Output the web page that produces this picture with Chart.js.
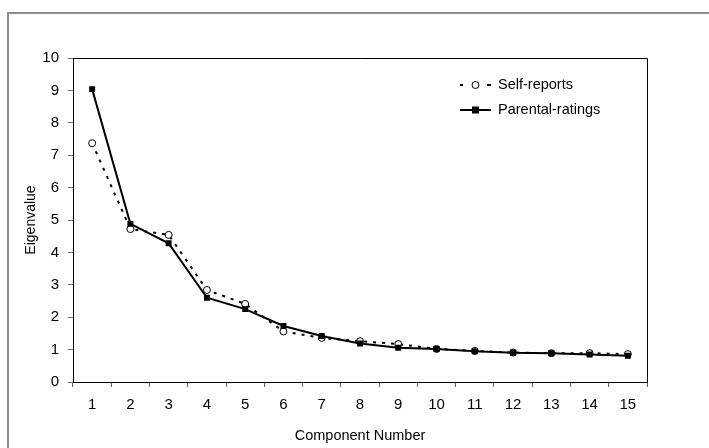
<!DOCTYPE html>
<html>
<head>
<meta charset="utf-8">
<script src="https://cdn.jsdelivr.net/npm/chart.js@4/dist/chart.umd.min.js"></script>
<style>
  html, body { margin: 0; padding: 0; background: #fff; }
  #wrap { width: 709px; height: 448px; position: relative; }
</style>
</head>
<body>
<div id="wrap"><canvas id="c" width="709" height="448"></canvas></div>
<script>
const categories = ['1','2','3','4','5','6','7','8','9','10','11','12','13','14','15'];
const selfReports = [7.37, 4.72, 4.54, 2.84, 2.41, 1.56, 1.36, 1.26, 1.17, 1.02, 0.96, 0.91, 0.89, 0.89, 0.86];
const parentalRatings = [9.04, 4.88, 4.28, 2.60, 2.25, 1.73, 1.42, 1.19, 1.06, 1.02, 0.95, 0.90, 0.89, 0.85, 0.81];
const seriesNames = ['Self-reports', 'Parental-ratings'];
const yTicks = [0,1,2,3,4,5,6,7,8,9,10];
const xTitle = 'Component Number';
const yTitle = 'Eigenvalue';

const REG = '"Liberation Sans", Arial, sans-serif';

const framePlugin = {
  id: 'frame',
  beforeDraw(chart) {
    const ctx = chart.ctx;
    ctx.save();
    ctx.fillStyle = '#fff';
    ctx.fillRect(0, 0, chart.width, chart.height);
    ctx.strokeStyle = '#8c8c8c';
    ctx.lineWidth = 2;
    ctx.beginPath();
    ctx.moveTo(8, chart.height);
    ctx.lineTo(8, 13);
    ctx.lineTo(chart.width, 13);
    ctx.stroke();
    ctx.restore();
  },
  afterDatasetsDraw(chart) {
    const a = chart.chartArea;
    const ctx = chart.ctx;
    ctx.save();
    ctx.strokeStyle = '#000';
    ctx.lineWidth = 1;
    ctx.beginPath();
    ctx.moveTo(a.left, a.top + 0.5);
    ctx.lineTo(a.right + 0.5, a.top + 0.5);
    ctx.lineTo(a.right + 0.5, a.bottom);
    ctx.stroke();
    ctx.restore();
  }
};

const legendPlugin = {
  id: 'inlegend',
  afterDraw(chart) {
    const ctx = chart.ctx;
    ctx.save();
    ctx.font = '14.5px ' + REG;
    ctx.fillStyle = '#000';
    ctx.textBaseline = 'middle';
    const x0 = 460, x1 = 491, xm = 475.5, tx = 498;
    let y = 85;
    ctx.strokeStyle = '#000';
    ctx.lineWidth = 2;
    ctx.beginPath();
    ctx.moveTo(x0, y); ctx.lineTo(x0 + 3, y);
    ctx.moveTo(x1 - 4, y); ctx.lineTo(x1, y);
    ctx.stroke();
    ctx.lineWidth = 1;
    ctx.fillStyle = '#fff';
    ctx.beginPath();
    ctx.arc(xm, y, 3.5, 0, Math.PI * 2);
    ctx.fill(); ctx.stroke();
    ctx.fillStyle = '#000';
    ctx.fillText(seriesNames[0], tx, y);
    y = 110;
    ctx.lineWidth = 2;
    ctx.beginPath();
    ctx.moveTo(x0, y); ctx.lineTo(x1, y);
    ctx.stroke();
    ctx.fillRect(xm - 3.5, y - 3.5, 7, 7);
    ctx.fillText(seriesNames[1], tx, y);
    ctx.restore();
  }
};

new Chart(document.getElementById('c'), {
  type: 'line',
  data: {
    labels: categories,
    datasets: [
      {
        label: seriesNames[0],
        data: selfReports,
        order: 1,
        borderColor: '#000',
        borderWidth: 2,
        borderDash: [3, 6],
        pointStyle: 'circle',
        pointRadius: 3.5,
        pointBorderWidth: 1,
        pointBackgroundColor: '#fff',
        pointBorderColor: '#000',
        tension: 0,
        fill: false
      },
      {
        label: seriesNames[1],
        data: parentalRatings,
        order: 0,
        borderColor: '#000',
        borderWidth: 2,
        pointStyle: 'rect',
        pointRadius: 4.2,
        pointBorderWidth: 0,
        pointBackgroundColor: '#000',
        pointBorderColor: '#000',
        tension: 0,
        fill: false
      }
    ]
  },
  options: {
    responsive: false,
    animation: false,
    devicePixelRatio: 1,
    layout: { padding: { left: 0, top: 58, right: 62, bottom: 0 } },
    plugins: { legend: { display: false }, tooltip: { enabled: false } },
    scales: {
      x: {
        type: 'category',
        offset: true,
        grid: { offset: true, drawOnChartArea: false, tickLength: 5, color: '#666', tickColor: '#666' },
        border: { display: true, color: '#000', width: 1 },
        ticks: { color: '#000', font: { family: REG, size: 15 }, padding: 9, maxRotation: 0, autoSkip: false },
        title: { display: true, text: xTitle, color: '#000', font: { family: REG, size: 14.5 }, padding: { top: 0, bottom: 3 } },
        afterFit(s) { s.height = 66; }
      },
      y: {
        min: 0, max: 10,
        afterBuildTicks(s) { s.ticks = yTicks.map(v => ({ value: v })); },
        grid: { drawOnChartArea: false, tickLength: 5, color: '#666', tickColor: '#666' },
        border: { display: true, color: '#000', width: 1 },
        ticks: { color: '#000', font: { family: REG, size: 15 }, padding: 9 },
        title: { display: true, text: yTitle, color: '#000', font: { family: REG, size: 14 }, padding: { top: 23, bottom: 0 } },
        afterFit(s) { s.width = 73; }
      }
    }
  },
  plugins: [framePlugin, legendPlugin]
});
</script>
</body>
</html>
